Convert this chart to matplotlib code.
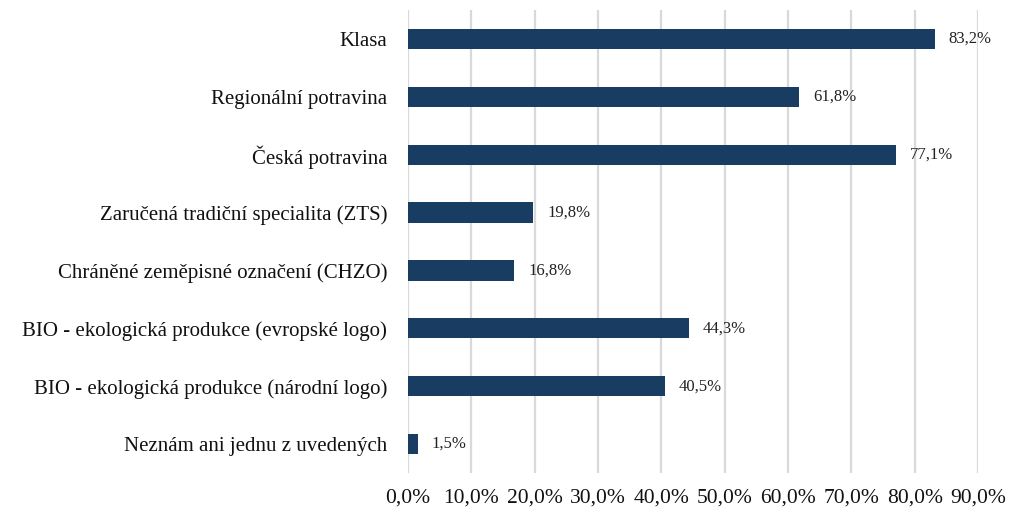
import matplotlib.pyplot as plt
from matplotlib.ticker import FuncFormatter

plt.rcParams['font.family'] = ['Liberation Serif', 'DejaVu Serif']

categories = [
    'Klasa',
    'Regionální potravina',
    'Česká potravina',
    'Zaručená tradiční specialita (ZTS)',
    'Chráněné zeměpisné označení (CHZO)',
    'BIO - ekologická produkce (evropské logo)',
    'BIO - ekologická produkce (národní logo)',
    'Neznám ani jednu z uvedených',
]
values = [83.2, 61.8, 77.1, 19.8, 16.8, 44.3, 40.5, 1.5]
x_ticks = [0, 10, 20, 30, 40, 50, 60, 70, 80, 90]

BAR_COLOR = '#183C62'

def pct(v):
    return f'{v:.1f}%'.replace('.', ',')

fig = plt.figure(figsize=(10.09, 5.08), dpi=100)
ax = fig.add_axes([0.4044, 0.0689, 0.5649, 0.9114])

ypos = list(range(len(categories)))
ax.barh(ypos, values, height=0.35, color=BAR_COLOR, zorder=3)

for y, v in zip(ypos, values):
    ax.annotate(pct(v), xy=(v, y), xytext=(10, 0),
                textcoords='offset points', va='center', ha='left',
                fontsize=12, color='#222222')

ax.set_xlim(0, 90)
ax.set_ylim(len(categories) - 0.5, -0.5)
ax.set_yticks(ypos)
ax.set_yticklabels(categories, fontsize=15, color='#111111')
ax.set_xticks(x_ticks)
ax.xaxis.set_major_formatter(FuncFormatter(lambda v, p: pct(v)))
ax.tick_params(axis='x', length=0, pad=11, labelsize=15.5, colors='#111111')
ax.tick_params(axis='y', length=0, pad=15)

ax.grid(axis='x', color='#D9D9D9', linewidth=1.6, zorder=0)
ax.grid(axis='y', visible=False)
for s in ax.spines.values():
    s.set_visible(False)

fig.savefig('out.png', dpi=100)
